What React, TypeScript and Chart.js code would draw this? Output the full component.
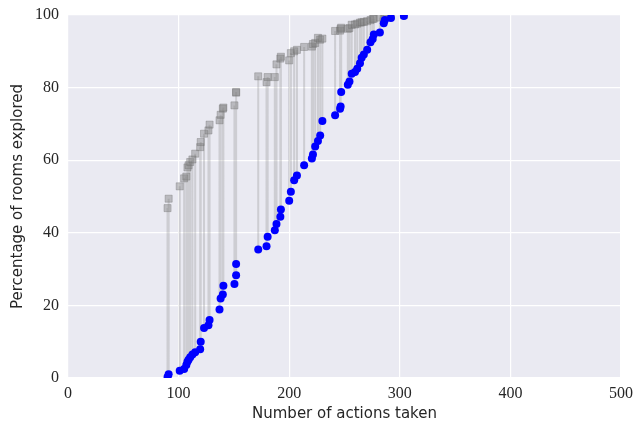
import React, { useEffect, useRef } from "react";
import { Chart, registerables } from "chart.js";
Chart.register(...registerables);

// Number of actions taken for each run
const actions = [
  90, 91, 101, 105, 107, 108, 109, 110.5, 112.5, 115, 119.5, 120, 123, 127, 128, 137, 138, 140, 140.5, 150.5, 152, 152,
  172, 179.5, 180.5, 187, 188.5, 192, 192.5, 200, 201.5, 204.5, 207, 213.5, 220.5, 221.5, 223.5, 226, 228, 230,
  241.5, 246, 246.5, 247, 253, 254.5, 256.5, 259.5, 261.5, 264, 265.5, 267.5, 270.5, 273.5, 275.5, 276.5, 282, 285.5, 286.5, 292, 303.7,
];
// Grey squares: percentage of rooms explored (upper)
const greyPct = [
  46.8, 49.4, 52.8, 55.0, 55.5, 58.0, 58.6, 59.5, 60.2, 61.8, 63.6, 65.0, 67.3, 68.2, 69.8, 71.0, 72.5, 74.2, 74.5, 75.1, 78.6, 78.8,
  83.1, 81.5, 82.9, 82.9, 86.4, 88.0, 88.5, 87.5, 89.5, 90.0, 90.4, 91.2, 91.3, 92.0, 92.3, 93.7, 93.2, 93.5,
  95.6, 95.7, 96.2, 96.5, 96.2, 96.4, 97.3, 97.4, 97.6, 97.9, 98.0, 98.1, 98.3, 98.6, 98.9, 99.0, 99.3, 99.5, 99.6, 99.8, 100,
];
// Blue circles: percentage of rooms explored (lower)
const bluePct = [
  0.3, 1.0, 2.0, 2.5, 3.6, 4.5, 5.0, 5.7, 6.5, 7.1, 7.9, 10.0, 13.8, 14.5, 16.0, 18.9, 21.9, 23.0, 25.4, 25.9, 28.3, 31.4,
  35.4, 36.3, 38.9, 40.7, 42.4, 44.4, 46.4, 48.8, 51.3, 54.5, 55.8, 58.6, 60.5, 61.6, 63.8, 65.3, 66.8, 70.8,
  72.4, 74.2, 74.8, 78.8, 80.8, 81.7, 83.8, 84.3, 85.2, 86.7, 88.2, 89.1, 90.4, 92.5, 93.4, 94.6, 95.2, 97.7, 98.6, 99.2, 99.7,
];
const xTicks = [0, 100, 200, 300, 400, 500];
const yTicks = [0, 20, 40, 60, 80, 100];

export default function App() {
  const ref = useRef<HTMLCanvasElement>(null);
  useEffect(() => {
    document.body.style.margin = "0";
    const canvas = ref.current;
    if (!canvas) return;
    const bgPlugin = {
      id: "bgPlugin",
      beforeDraw(chart: any) {
        const { ctx, chartArea: a } = chart;
        ctx.save();
        ctx.fillStyle = "#EAEAF2";
        ctx.fillRect(a.left, a.top, a.right - a.left, a.bottom - a.top);
        ctx.restore();
      },
    };
    const lineData: any[] = [];
    actions.forEach((x, i) => {
      lineData.push({ x, y: greyPct[i] });
      lineData.push({ x, y: bluePct[i] });
      lineData.push({ x, y: null });
    });
    const tickFont = { family: "'Liberation Serif', serif", size: 16 };
    const titleFont = { family: "'DejaVu Sans', sans-serif", size: 15 };
    const chart = new Chart(canvas, {
      type: "scatter",
      data: {
        datasets: [
          {
            label: "blue",
            data: actions.map((x, i) => ({ x, y: bluePct[i] })),
            backgroundColor: "#0000FF",
            borderColor: "#0000FF",
            borderWidth: 0,
            pointRadius: 4,
            pointStyle: "circle",
            order: 0,
          },
          {
            label: "grey",
            data: actions.map((x, i) => ({ x, y: greyPct[i] })),
            backgroundColor: "rgba(128,128,128,0.45)",
            borderColor: "rgba(110,110,110,0.35)",
            borderWidth: 1,
            pointRadius: 5,
            pointStyle: "rect",
            order: 1,
          },
          {
            label: "links",
            data: lineData,
            showLine: true,
            spanGaps: false,
            borderColor: "rgba(128,128,128,0.28)",
            borderWidth: 2,
            pointRadius: 0,
            order: 2,
          } as any,
        ],
      },
      options: {
        responsive: false,
        animation: false,
        layout: { padding: { left: 0, top: 15, right: 15, bottom: 0 } },
        plugins: { legend: { display: false }, tooltip: { enabled: false } },
        scales: {
          x: {
            type: "linear",
            min: 0,
            max: 500,
            afterBuildTicks: (s: any) => {
              s.ticks = xTicks.map((v) => ({ value: v }));
            },
            afterFit: (s: any) => {
              s.height = 46;
              s.paddingLeft = 0;
              s.paddingRight = 0;
            },
            grid: { color: "#FFFFFF", lineWidth: 1.2, drawTicks: false },
            border: { display: false },
            ticks: { font: tickFont, color: "#262626", padding: 6, maxRotation: 0 },
            title: {
              display: true,
              text: "Number of actions taken",
              font: titleFont,
              color: "#262626",
              padding: { top: 0, bottom: 1 },
            },
          },
          y: {
            type: "linear",
            min: 0,
            max: 100,
            afterBuildTicks: (s: any) => {
              s.ticks = yTicks.map((v) => ({ value: v }));
            },
            afterFit: (s: any) => {
              s.width = 68;
              s.paddingTop = 0;
              s.paddingBottom = 0;
            },
            grid: { color: "#FFFFFF", lineWidth: 1.2, drawTicks: false },
            border: { display: false },
            ticks: { font: tickFont, color: "#262626", padding: 9 },
            title: {
              display: true,
              text: "Percentage of rooms explored",
              font: titleFont,
              color: "#262626",
              padding: { top: 9, bottom: 0 },
            },
          },
        },
      },
      plugins: [bgPlugin],
    } as any);
    return () => chart.destroy();
  }, []);
  return (
    <div style={{ position: "fixed", left: 0, top: 0, width: 636, height: 424, background: "#FFFFFF" }}>
      <canvas ref={ref} width={636} height={424} style={{ width: 636, height: 424, display: "block" }} />
    </div>
  );
}
